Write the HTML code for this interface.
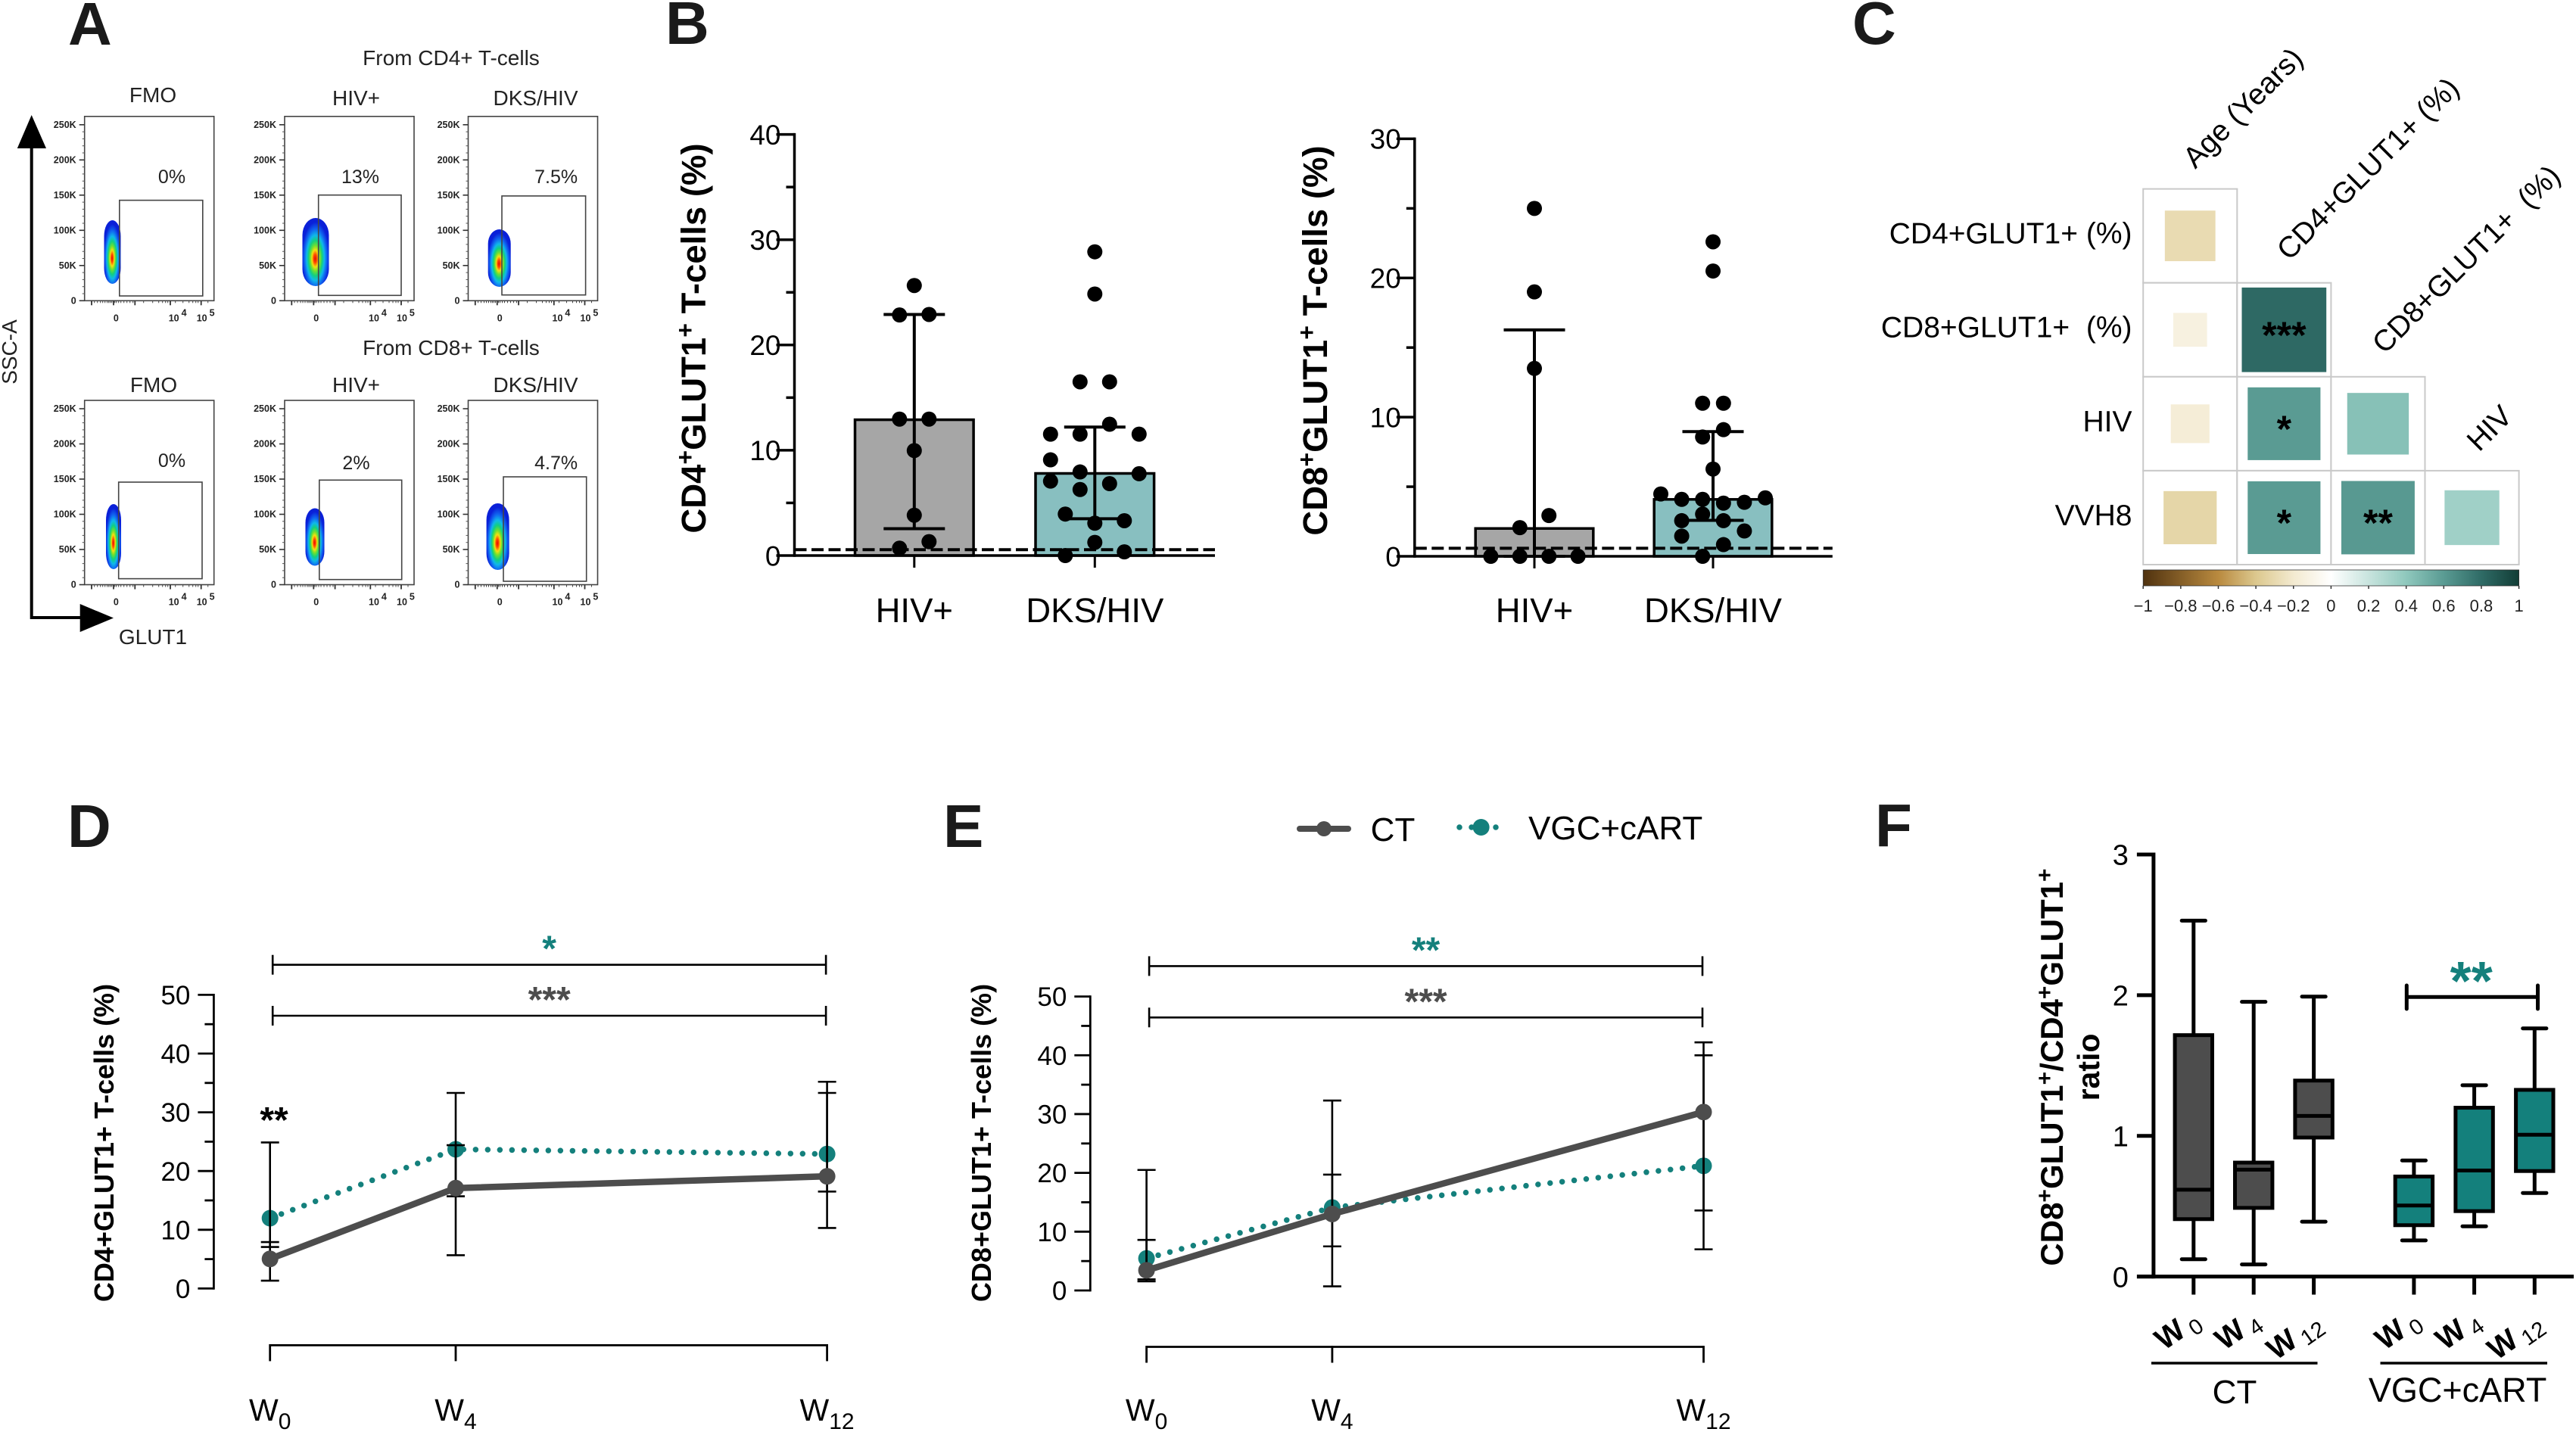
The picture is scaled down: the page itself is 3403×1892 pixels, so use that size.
<!DOCTYPE html>
<html lang="en">
<head>
<meta charset="utf-8">
<title>GLUT1 expression on T-cells</title>
<style>
html,body{margin:0;padding:0;background:#fff;}
body{width:3403px;height:1892px;overflow:hidden;}
svg{display:block;font-family:"Liberation Sans",Arial,sans-serif;}
.letter{font-size:80px;font-weight:700;fill:#1a1a1a;}
.flow-title{font-size:28px;fill:#222;text-anchor:middle;}
.ytitle{font-size:45.5px;font-weight:700;text-anchor:middle;}
.ytitle2{font-size:36px;font-weight:700;text-anchor:middle;}
</style>
</head>
<body>
<svg id="figure" xmlns="http://www.w3.org/2000/svg" width="3403" height="1892" viewBox="0 0 3403 1892">
<defs>
<radialGradient id="blobGradA" cx="0.5" cy="0.58" r="0.52" fx="0.48" fy="0.6">
<stop offset="0" stop-color="#e80a00"/><stop offset="0.12" stop-color="#ff4a00"/><stop offset="0.24" stop-color="#f4e010"/><stop offset="0.36" stop-color="#70e030"/><stop offset="0.5" stop-color="#12cf80"/><stop offset="0.64" stop-color="#10b8ea"/><stop offset="0.8" stop-color="#1068f0"/><stop offset="1" stop-color="#0a20d8"/>
</radialGradient>
<linearGradient id="corrBarGrad" x1="0" x2="1" y1="0" y2="0"></linearGradient>
</defs>

<g id="panel-a">
<text class="letter" x="90" y="59">A</text>
<text class="flow-title" x="596" y="86">From CD4+ T-cells</text>
<text class="flow-title" x="596" y="469">From CD8+ T-cells</text>
<text class="flow-title" x="202" y="135">FMO</text>
<text class="flow-title" x="470.5" y="139">HIV+</text>
<text class="flow-title" x="707.5" y="139">DKS/HIV</text>
<text class="flow-title" x="203" y="518">FMO</text>
<text class="flow-title" x="470.5" y="518">HIV+</text>
<text class="flow-title" x="707.5" y="518">DKS/HIV</text>
<text class="flow-title" transform="translate(22,465) rotate(-90)">SSC-A</text>
<text class="flow-title" x="202" y="851">GLUT1</text>
<path d="M41.7 196V816H106" fill="none" stroke="#000" stroke-width="4"/>
<path d="M41.7 152L61 196H22.8Z" fill="#000"/>
<path d="M150 816.5L105.7 798V835Z" fill="#000"/>
</g>

<g id="panel-b1">
<text class="letter" x="879" y="58">B</text>
<text class="ytitle" transform="translate(916,447) rotate(-90)"><tspan dy="16">CD4</tspan><tspan font-size="32" dy="-16">+</tspan><tspan dy="16">GLUT1</tspan><tspan font-size="32" dy="-16">+</tspan><tspan dy="16"> T-cells (%)</tspan></text>
</g>
<g id="panel-b2">
<text class="ytitle" transform="translate(1737,450) rotate(-90)"><tspan dy="16">CD8</tspan><tspan font-size="32" dy="-16">+</tspan><tspan dy="16">GLUT1</tspan><tspan font-size="32" dy="-16">+</tspan><tspan dy="16"> T-cells (%)</tspan></text>
</g>

<g id="panel-c">
<text class="letter" x="2447" y="58">C</text>
</g>

<g id="panel-d">
<text class="letter" x="89" y="1119">D</text>
<text class="ytitle2" transform="translate(150,1510) rotate(-90)">CD4+GLUT1+ T-cells (%)</text>
</g>

<g id="panel-e">
<text class="letter" x="1246" y="1119">E</text>
<text class="ytitle2" transform="translate(1309,1510) rotate(-90)">CD8+GLUT1+ T-cells (%)</text>
<g>
<line x1="1717" y1="1095" x2="1781" y2="1095" stroke="#4d4d4d" stroke-width="8" stroke-linecap="round"/>
<circle cx="1749" cy="1095" r="10" fill="#4d4d4d"/>
<text x="1840" y="1111" font-size="44" text-anchor="middle">CT</text>
<line x1="1928" y1="1093" x2="1981" y2="1093" stroke="#14807c" stroke-width="7.5" stroke-linecap="round" stroke-dasharray="0 16"/>
<circle cx="1956.6" cy="1093" r="11" fill="#14807c"/>
<text x="2019" y="1109" font-size="44">VGC+cART</text>
</g>
</g>

<g id="panel-f">
<text class="letter" x="2477" y="1118">F</text>
<text font-size="42" font-weight="700" text-anchor="middle" transform="translate(2725,1410) rotate(-90)">CD8<tspan font-size="30" dy="-14">+</tspan><tspan dy="14">GLUT1</tspan><tspan font-size="30" dy="-14">+</tspan><tspan dy="14">/CD4</tspan><tspan font-size="30" dy="-14">+</tspan><tspan dy="14">GLUT1</tspan><tspan font-size="30" dy="-14">+</tspan></text>
<text font-size="41" font-weight="700" text-anchor="middle" transform="translate(2773,1410) rotate(-90)">ratio</text>
<line x1="2842" y1="1801" x2="3061.5" y2="1801" stroke="#000" stroke-width="3.5"/>
<line x1="3144.5" y1="1801" x2="3365" y2="1801" stroke="#000" stroke-width="3.5"/>
<text x="2952" y="1854" font-size="44" text-anchor="middle">CT</text>
<text x="3246.6" y="1852" font-size="45" text-anchor="middle">VGC+cART</text>
</g>
</svg>

<script>
/* ---------- Panel B data ---------- */
const b1Categories = ['HIV+', 'DKS/HIV'];
const b1YTicks = [0, 10, 20, 30, 40];
const b1BarValues = [12.9, 7.8];
const b1ErrLow = [2.55, 3.5];
const b1ErrHigh = [22.9, 12.2];
const b1Threshold = 0.56;
const b1HivPoints = [25.65, 22.85, 22.9, 12.96, 12.96, 9.97, 3.83, 1.32, 0.7];
const b1HivSlots = [0, -1, 1, -1, 1, 0, 0, 1, -1];
const b1DksPoints = [28.85, 24.84, 16.5, 16.5, 12.47, 11.53, 11.53, 11.53, 9.09, 7.94, 7.77, 7.07, 6.83, 6.27, 3.94, 3.31, 3.07, 1.25, 0.35, 0];
const b1DksSlots = [0, 0, -1, 1, 1, -3, -1, 3, -3, -1, 3, -3, 1, -1, -2, 2, 0, 0, 2, -2];

const b2Categories = ['HIV+', 'DKS/HIV'];
const b2YTicks = [0, 10, 20, 30];
const b2BarValues = [2.0, 4.09];
const b2ErrLow = [0, 2.58];
const b2ErrHigh = [16.27, 8.96];
const b2Threshold = 0.58;
const b2HivPoints = [25, 19, 13.5, 2.93, 2.06, 0, 0, 0, 0];
const b2HivSlots = [0, 0, 0, 1, -1, -3, -1, 1, 3];
const b2DksPoints = [22.6, 20.5, 11, 11, 9.1, 8.57, 6.27, 4.48, 4.09, 4.09, 4.2, 3.82, 3.88, 3.03, 2.56, 2.56, 1.82, 1.45, 0.84, 0];
const b2DksSlots = [0, 0, -1, 1, 1, -1, 0, -5, -3, -1, 5, 1, 3, -1, -3, 1, 3, -3, 1, -1];

/* ---------- Panel C data ---------- */
const corrRowLabels = ['CD4+GLUT1+ (%)', 'CD8+GLUT1+  (%)', 'HIV', 'VVH8'];
const corrColLabels = ['Age (Years)', 'CD4+GLUT1+ (%)', 'CD8+GLUT1+  (%)', 'HIV'];
const corrValues = [
  [-0.29],
  [-0.13, 0.81],
  [-0.17, 0.6, 0.43],
  [-0.32, 0.6, 0.61, 0.34]
];
const corrStars = [
  [''],
  ['', '***'],
  ['', '*', ''],
  ['', '*', '**', '']
];
const corrScaleTicks = [-1, -0.8, -0.6, -0.4, -0.2, 0, 0.2, 0.4, 0.6, 0.8, 1];
const corrScaleValues = [-1, -0.6, -0.4, -0.2, 0, 0.2, 0.4, 0.6, 0.8, 1];
const corrScaleColors = ['#50320f', '#b98a3f', '#dcc88e', '#f3ead0', '#ffffff', '#c8e4de', '#8fc8bd', '#5a9b93', '#2f6b66', '#123d36'];

/* ---------- Panel D data ---------- */
const weeks = [0, 4, 12];
const weekLabels = ['0', '4', '12'];
const dYTicks = [0, 10, 20, 30, 40, 50];
const dCtMeans = [5.04, 17.09, 19.1];
const dCtLow = [1.33, 5.67, 10.3];
const dCtHigh = [7.9, 24.4, 33.3];
const dVgcMeans = [11.97, 23.7, 22.9];
const dVgcLow = [7.07, 15.7, 16.5];
const dVgcHigh = [24.86, 33.3, 35.2];

/* ---------- Panel E data ---------- */
const eYTicks = [0, 10, 20, 30, 40, 50];
const eCtMeans = [3.43, 13, 30.35];
const eCtLow = [1.55, 0.7, 13.6];
const eCtHigh = [8.6, 19.7, 42.2];
const eVgcMeans = [5.45, 14.1, 21.2];
const eVgcLow = [1.9, 7.5, 7];
const eVgcHigh = [20.5, 32.3, 40];

/* ---------- Panel F data ---------- */
const fGroups = ['CT', 'VGC+cART'];
const fBoxWeeks = ['0', '4', '12', '0', '4', '12'];
const fYTicks = [0, 1, 2, 3];
const fWhiskerHigh = [2.53, 1.953, 1.99, 0.825, 1.36, 1.764];
const fWhiskerLow = [0.123, 0.086, 0.39, 0.257, 0.357, 0.594];
const fQ3 = [1.716, 0.81, 1.393, 0.711, 1.2, 1.327];
const fQ1 = [0.408, 0.488, 0.988, 0.365, 0.465, 0.75];
const fMedian = [0.617, 0.76, 1.142, 0.505, 0.754, 1.008];

/* ---------- Panel A labels ---------- */
const flowYLabels = ['0', '50K', '100K', '150K', '200K', '250K'];

/* ---------- helpers ---------- */
const NS = 'http://www.w3.org/2000/svg';
const TEAL = '#14807c';
const GREY = '#4d4d4d';
function make(parent, tag, attrs, content) {
  const e = document.createElementNS(NS, tag);
  for (const k in attrs) e.setAttribute(k, attrs[k]);
  if (content !== undefined) e.textContent = content;
  parent.appendChild(e);
  return e;
}
function drawLine(parent, name, x1, y1, x2, y2, stroke, width, extra) {
  const e = make(parent, 'line', Object.assign({x1: x1, y1: y1, x2: x2, y2: y2, stroke: stroke, 'stroke-width': width}, extra || {}));
  
  
  return e;
}
function drawText(parent, name, x, y, str, size, anchor, extra) {
  const e = make(parent, 'text', Object.assign({x: x, y: y, 'font-size': size, 'text-anchor': anchor}, extra || {}), str);
  
  
  return e;
}
function drawRect(parent, name, x, y, w, h, fill, stroke, sw) {
  const e = make(parent, 'rect', {x: x, y: y, width: w, height: h, fill: fill, stroke: stroke || 'none', 'stroke-width': sw || 0});
  
  
  return e;
}
function drawDot(parent, name, cx, cy, r, fill) {
  const e = make(parent, 'circle', {cx: cx, cy: cy, r: r, fill: fill});
  
  
  return e;
}
function errorBar(parent, name, x, yLow, yHigh, capHalf, width) {
  drawLine(parent, name + '-stem', x, yLow, x, yHigh, '#000', width);
  drawLine(parent, name + '-cap-high', x - capHalf, yHigh, x + capHalf, yHigh, '#000', width);
  drawLine(parent, name + '-cap-low', x - capHalf, yLow, x + capHalf, yLow, '#000', width);
}
function yAxis(parent, prefix, axisX, scale, ticks, minorStep, majorLen, minorLen, width, fontSize, gap) {
  const top = scale(ticks[ticks.length - 1]);
  const bottom = scale(ticks[0]);
  drawLine(parent, prefix + '-y-axis', axisX, top - width / 2, axisX, bottom + width / 2, '#000', width);
  ticks.forEach(function (t) {
    drawLine(parent, prefix + '-y-tick', axisX - majorLen, scale(t), axisX, scale(t), '#000', width);
    drawText(parent, prefix + '-y-tick-label', axisX - gap, scale(t) + fontSize * 0.36, String(t), fontSize, 'end');
  });
  if (minorStep) {
    for (let v = ticks[0] + minorStep; v < ticks[ticks.length - 1]; v += 2 * minorStep) {
      drawLine(parent, prefix + '-y-minor-tick', axisX - minorLen, scale(v), axisX, scale(v), '#000', width);
    }
  }
}

/* ---------- Panel A: flow plots ---------- */
const panelA = document.getElementById('panel-a');
function flowPlot(name, px, py, gx1, gy1, gx2, gy2, bx, by, brx, bry, pct, tx, ty) {
  const w = 171, h = 243.5;
  const g = make(panelA, 'g', {});
  
  
  drawRect(g, 'flow-plot-frame', px, py, w, h, '#fff', '#444', 1.6);
  const blob = make(g, 'rect', {x: bx - brx, y: by - bry, width: 2 * brx, height: 2 * bry, rx: brx, ry: bry * 0.5, fill: 'url(#blobGradA)'});
  
  
  drawRect(g, 'flow-gate', gx1, gy1, gx2 - gx1, gy2 - gy1, 'none', '#444', 1.6);
  drawText(g, 'flow-gate-percent', tx, ty + 10, pct, 25, 'middle', {fill: '#222'});
  for (let i = 0; i < 6; i++) {
    const ty2 = py + h - i * 46.5;
    drawLine(g, 'flow-y-tick', px - 7, ty2, px, ty2, '#333', 1.6);
    drawText(g, 'flow-y-tick-label', px - 11, ty2 + 4, flowYLabels[i], 12.5, 'end', {'font-weight': 700, fill: '#222'});
    if (i < 5) {
      for (let j = 1; j < 5; j++) {
        drawLine(g, 'flow-y-minor-tick', px - 3, ty2 - j * 9.3, px, ty2 - j * 9.3, '#555', 1);
      }
    }
  }
  [9.3, 38.3, 66.6, 113.3, 154].forEach(function (o) {
    drawLine(g, 'flow-x-tick', px + o, py + h, px + o, py + h + 6, '#333', 1.8);
  });
  [13, 17, 21, 24, 27, 30, 32, 34, 36, 40, 42, 45, 48, 52, 56, 60, 64, 78, 90, 98, 103, 107, 110, 120, 130, 138, 143, 147, 150, 163].forEach(function (o) {
    drawLine(g, 'flow-x-minor-tick', px + o, py + h, px + o, py + h + 3, '#444', 1);
  });
  drawText(g, 'flow-x-tick-label', px + 41.7, py + h + 27, '0', 12.5, 'middle', {'font-weight': 700, fill: '#222'});
  const t1 = drawText(g, 'flow-x-tick-label', px + 111, py + h + 27, '10', 12.5, 'start', {'font-weight': 700, fill: '#222'});
  make(t1, 'tspan', {dy: -7, dx: 3}, '4');
  const t2 = drawText(g, 'flow-x-tick-label', px + 148, py + h + 27, '10', 12.5, 'start', {'font-weight': 700, fill: '#222'});
  make(t2, 'tspan', {dy: -7, dx: 3}, '5');
}
flowPlot('flow-plot-cd4-fmo', 111.7, 153.8, 157.8, 264.6, 267.8, 391, 148.5, 333, 11, 42, '0%', 227, 232);
flowPlot('flow-plot-cd4-hiv', 376, 153.8, 420.7, 257.7, 530, 390.3, 417, 333, 17.5, 45, '13%', 476, 232);
flowPlot('flow-plot-cd4-dks', 618.5, 153.8, 663, 258.9, 773.6, 389.7, 659.7, 341, 15, 38, '7.5%', 734.6, 232);
flowPlot('flow-plot-cd8-fmo', 111.7, 529, 156.7, 637, 267, 764.6, 150, 709, 10, 43, '0%', 227, 607);
flowPlot('flow-plot-cd8-hiv', 376, 529, 421.8, 634.3, 530.7, 765.7, 416, 709.5, 12.5, 38, '2%', 470.5, 610);
flowPlot('flow-plot-cd8-dks', 618.5, 529, 665, 630, 774.7, 768, 657.6, 709, 15, 44, '4.7%', 734.6, 610);

/* ---------- Panel B: bar + scatter charts ---------- */
function barChart(parentId, prefix, axisX, axisEnd, y0, yTop, xFirst, xStep, barHalf, slotW, ticks, cats, bars, errLow, errHigh, thresh, groupPoints, groupSlots, labelY) {
  const parent = document.getElementById(parentId);
  const maxV = ticks[ticks.length - 1];
  const yS = function (v) { return y0 - v * (y0 - yTop) / maxV; };
  const xS = function (i) { return xFirst + i * xStep; };
  const fills = ['#a6a6a6', '#88bfc0'];
  bars.forEach(function (v, i) {
    drawRect(parent, prefix + '-bar-' + i, xS(i) - barHalf, yS(v), 2 * barHalf, y0 - yS(v), fills[i], '#000', 3.5);
  });
  yAxis(parent, prefix, axisX, yS, ticks, ticks[1] / 2, 24, 11, 3.5, 37, 18);
  drawLine(parent, prefix + '-x-axis', axisX, y0, axisEnd, y0, '#000', 3.5);
  cats.forEach(function (c, i) {
    drawLine(parent, prefix + '-x-tick', xS(i), y0, xS(i), y0 + 16, '#000', 3);
    drawText(parent, prefix + '-x-tick-label', xS(i), labelY, c, 45.5, 'middle');
  });
  drawLine(parent, prefix + '-threshold-line', axisX, yS(thresh), axisEnd, yS(thresh), '#000', 4, {'stroke-dasharray': '16 6.5'});
  bars.forEach(function (v, i) {
    errorBar(parent, prefix + '-error-bar-' + i, xS(i), yS(errLow[i]), yS(errHigh[i]), 40.5, 4);
  });
  groupPoints.forEach(function (pts, i) {
    pts.forEach(function (v, k) {
      drawDot(parent, prefix + '-point-' + i, xS(i) + groupSlots[i][k] * slotW[i], yS(v), 10, '#000');
    });
  });
}
barChart('panel-b1', 'cd4-chart', 1049.5, 1605, 734, 177.6, 1207.8, 238.5, 78.3, [19.5, 19.5], b1YTicks, b1Categories, b1BarValues, b1ErrLow, b1ErrHigh, b1Threshold, [b1HivPoints, b1DksPoints], [b1HivSlots, b1DksSlots], 822);
barChart('panel-b2', 'cd8-chart', 1868.8, 2420.8, 735, 183.4, 2027, 236, 77.8, [19.2, 13.8], b2YTicks, b2Categories, b2BarValues, b2ErrLow, b2ErrHigh, b2Threshold, [b2HivPoints, b2DksPoints], [b2HivSlots, b2DksSlots], 822);

/* ---------- Panel C: correlation matrix ---------- */
const panelC = document.getElementById('panel-c');
function corrColor(v) {
  for (let i = 1; i < corrScaleValues.length; i++) {
    if (v <= corrScaleValues[i]) {
      const t = (v - corrScaleValues[i - 1]) / (corrScaleValues[i] - corrScaleValues[i - 1]);
      const a = corrScaleColors[i - 1], b = corrScaleColors[i];
      let out = '#';
      for (let c = 1; c < 7; c += 2) {
        const va = parseInt(a.substr(c, 2), 16), vb = parseInt(b.substr(c, 2), 16);
        out += Math.round(va + (vb - va) * t).toString(16).padStart(2, '0');
      }
      return out;
    }
  }
  return corrScaleColors[corrScaleColors.length - 1];
}
const cX0 = 2831.2, cY0 = 249.6, cCell = 124.1;
corrValues.forEach(function (row, r) {
  row.forEach(function (v, c) {
    const x = cX0 + c * cCell, y = cY0 + r * cCell;
    drawRect(panelC, 'corr-cell-frame', x, y, cCell, cCell, '#fff', '#c9c9c9', 2);
    const side = cCell * Math.sqrt(Math.abs(v));
    drawRect(panelC, 'corr-cell-r' + r + '-c' + c, x + (cCell - side) / 2, y + (cCell - side) / 2, side, side, corrColor(v));
    if (corrStars[r][c]) {
      drawText(panelC, 'corr-significance', x + cCell / 2, y + cCell / 2 + 24, corrStars[r][c], 50, 'middle', {'font-weight': 700});
    }
  });
});
corrRowLabels.forEach(function (lab, r) {
  const t = drawText(panelC, 'corr-row-label', 2816.5, cY0 + r * cCell + 62 + 10, lab, 39, 'end');
  t.setAttribute('xml:space', 'preserve');
  t.style.whiteSpace = 'pre';
});
const colLabelStarts = [[2900, 224], [3024, 345.6], [3150, 469], [3275, 598]];
corrColLabels.forEach(function (lab, c) {
  const t = drawText(panelC, 'corr-col-label', 0, 0, lab, 39, 'start', {transform: 'translate(' + colLabelStarts[c][0] + ',' + colLabelStarts[c][1] + ') rotate(-45)'});
  t.style.whiteSpace = 'pre';
});
const corrGrad = document.getElementById('corrBarGrad');
corrScaleValues.forEach(function (v, i) {
  make(corrGrad, 'stop', {offset: (v + 1) / 2, 'stop-color': corrScaleColors[i]});
});
drawRect(panelC, 'corr-color-bar', cX0, 753, 4 * cCell, 21, 'url(#corrBarGrad)', '#333', 0.8);
corrScaleTicks.forEach(function (v) {
  const x = cX0 + (v + 1) / 2 * 4 * cCell;
  drawLine(panelC, 'corr-scale-tick', x, 774, x, 778, '#333', 1.5);
  drawText(panelC, 'corr-scale-label', x, 808, String(v).replace('-', '\u2212'), 22, 'middle', {fill: '#222'});
});

/* ---------- Panels D, E: time courses ---------- */
function timeChart(parentId, prefix, axisX, y0, yTop, xW0, xPerWeek, bottomAxisY, bracketTop, bracketLow, starsTop, starsLow, ticks, ctM, ctL, ctH, vgM, vgL, vgH) {
  const parent = document.getElementById(parentId);
  const maxV = ticks[ticks.length - 1];
  const yS = function (v) { return y0 - v * (y0 - yTop) / maxV; };
  const xS = function (w) { return xW0 + w * xPerWeek; };
  yAxis(parent, prefix, axisX, yS, ticks, 5, 21, 12, 2.8, 35, 31);
  drawLine(parent, prefix + '-x-axis', xS(weeks[0]), bottomAxisY, xS(weeks[2]), bottomAxisY, '#000', 2.8);
  weeks.forEach(function (w, i) {
    drawLine(parent, prefix + '-x-tick', xS(w), bottomAxisY - 1.4, xS(w), bottomAxisY + 21, '#000', 2.8);
    const t = drawText(parent, prefix + '-x-tick-label', xS(w), 1877, 'W', 41, 'middle');
    make(t, 'tspan', {'font-size': 30, dy: 11}, weekLabels[i]);
  });
  const vgPts = weeks.map(function (w, i) { return xS(w) + ',' + yS(vgM[i]); }).join(' ');
  const vgLine = make(parent, 'polyline', {points: vgPts, fill: 'none', stroke: TEAL, 'stroke-width': 7.5, 'stroke-linecap': 'round', 'stroke-dasharray': '0 16'});
  
  
  weeks.forEach(function (w, i) {
    drawDot(parent, prefix + '-vgc-point', xS(w), yS(vgM[i]), 11, TEAL);
  });
  weeks.forEach(function (w, i) {
    errorBar(parent, prefix + '-ct-error-bar', xS(w), yS(ctL[i]), yS(ctH[i]), 12, 2.6);
    errorBar(parent, prefix + '-vgc-error-bar', xS(w), yS(vgL[i]), yS(vgH[i]), 12, 2.6);
  });
  const ctPts = weeks.map(function (w, i) { return xS(w) + ',' + yS(ctM[i]); }).join(' ');
  const ctLine = make(parent, 'polyline', {points: ctPts, fill: 'none', stroke: GREY, 'stroke-width': 8.5, 'stroke-linejoin': 'round'});
  
  
  weeks.forEach(function (w, i) {
    drawDot(parent, prefix + '-ct-point', xS(w), yS(ctM[i]), 11, GREY);
  });
  const bx1 = xS(weeks[0]) + 3.5, bx2 = xS(weeks[2]) - 1.5, bMid = (bx1 + bx2) / 2;
  [bracketTop, bracketLow].forEach(function (by) {
    drawLine(parent, prefix + '-sig-bracket', bx1, by, bx2, by, '#000', 2.6);
    drawLine(parent, prefix + '-sig-bracket-end', bx1, by - 13, bx1, by + 13, '#000', 2.6);
    drawLine(parent, prefix + '-sig-bracket-end', bx2, by - 13, bx2, by + 13, '#000', 2.6);
  });
  drawText(parent, prefix + '-sig-stars-vgc', bMid, bracketTop - 5, starsTop, 48, 'middle', {'font-weight': 700, fill: TEAL});
  drawText(parent, prefix + '-sig-stars-ct', bMid, bracketLow - 5, starsLow, 48, 'middle', {'font-weight': 700, fill: GREY});
}
timeChart('panel-d', 'd-chart', 282.4, 1702.4, 1314.4, 356.7, 61.325, 1777.4, 1274.7, 1342, '*', '***', dYTicks, dCtMeans, dCtLow, dCtHigh, dVgcMeans, dVgcLow, dVgcHigh);
timeChart('panel-e', 'e-chart', 1440.3, 1705, 1316.6, 1514.6, 61.325, 1779.5, 1276.4, 1344.3, '**', '***', eYTicks, eCtMeans, eCtLow, eCtHigh, eVgcMeans, eVgcLow, eVgcHigh);
drawText(document.getElementById('panel-d'), 'd-w0-significance', 362, 1496, '**', 48, 'middle', {'font-weight': 700});

/* ---------- Panel F: box plots ---------- */
const panelF = document.getElementById('panel-f');
const fY0 = 1686.6, fYTop = 1129;
function fY(v) { return fY0 - v * (fY0 - fYTop) / fYTicks[fYTicks.length - 1]; }
function fX(i) { return i < 3 ? 2897.8 + i * 79.4 : 3188.9 + (i - 3) * 79.7; }
yAxis(panelF, 'f-chart', 2844.9, fY, fYTicks, 0, 22, 0, 5, 38, 33);
drawLine(panelF, 'f-chart-x-axis', 2823, fY0, 3400, fY0, '#000', 5);
fMedian.forEach(function (m, i) {
  const x = fX(i);
  const col = i < 3 ? GREY : TEAL;
  drawLine(panelF, 'f-x-tick', x, fY0, x, 1710.5, '#000', 5);
  drawLine(panelF, 'f-whisker', x, fY(fWhiskerLow[i]), x, fY(fWhiskerHigh[i]), '#000', 5);
  drawLine(panelF, 'f-whisker-cap-high', x - 15.6, fY(fWhiskerHigh[i]), x + 15.6, fY(fWhiskerHigh[i]), '#000', 5, {'stroke-linecap': 'round'});
  drawLine(panelF, 'f-whisker-cap-low', x - 15.6, fY(fWhiskerLow[i]), x + 15.6, fY(fWhiskerLow[i]), '#000', 5, {'stroke-linecap': 'round'});
  drawRect(panelF, 'f-box-' + i, x - 24.7, fY(fQ3[i]), 49.4, fY(fQ1[i]) - fY(fQ3[i]), col, '#000', 5);
  drawLine(panelF, 'f-median-' + i, x - 24.7, fY(m), x + 24.7, fY(m), '#000', 5);
  const is12 = fBoxWeeks[i] === '12';
  const lx = x + (is12 ? -50 : -39);
  const ly = is12 ? 1798 : 1785;
  const t = drawText(panelF, 'f-x-tick-label', 0, 0, 'W', 40, 'start', {'font-weight': 700, transform: 'translate(' + lx + ',' + ly + ') rotate(-35)'});
  make(t, 'tspan', {'font-size': 29, 'font-weight': 400, dx: 7, dy: 8}, fBoxWeeks[i]);
});
drawLine(panelF, 'f-sig-bracket', 3179.3, 1317.3, 3352.5, 1317.3, '#000', 5);
drawLine(panelF, 'f-sig-bracket-end', 3179.3, 1302, 3179.3, 1333, '#000', 5, {'stroke-linecap': 'round'});
drawLine(panelF, 'f-sig-bracket-end', 3352.5, 1302, 3352.5, 1333, '#000', 5, {'stroke-linecap': 'round'});
drawText(panelF, 'f-sig-stars', 3264.7, 1321, '**', 72, 'middle', {'font-weight': 700, fill: TEAL});
</script>
</body>
</html>
